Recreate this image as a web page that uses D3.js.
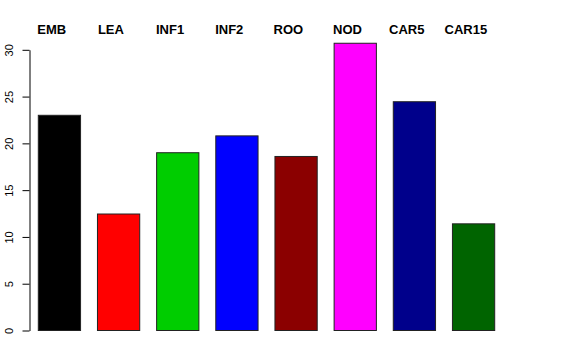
<!DOCTYPE html>
<html>
<head>
<meta charset="utf-8">
<script src="https://cdn.jsdelivr.net/npm/d3@7"></script>
<style>
  body { margin: 0; background: #fff; }
  svg { display: block; font-family: "Liberation Sans", Arial, sans-serif; }
</style>
</head>
<body>
<div id="chart"></div>
<script>
// ── 데이터 ──────────────────────────────────────────────
const categories = ['EMB', 'LEA', 'INF1', 'INF2', 'ROO', 'NOD', 'CAR5', 'CAR15'];
const values     = [23.0, 12.45, 19.0, 20.8, 18.6, 30.7, 24.45, 11.4];
const barColors  = ['#000000', '#FF0000', '#00CD00', '#0000FF', '#8B0000', '#FF00FF', '#00008B', '#006400'];
const yTicks     = [0, 5, 10, 15, 20, 25, 30];

// ── 레이아웃 ───────────────────────────────────────────
const W = 576, H = 360;

const svg = d3.select('#chart')
  .append('svg')
  .attr('width', W)
  .attr('height', H);

const x = d3.scaleBand()
  .domain(categories)
  .range([38.3, 494.7])
  .paddingInner(0.4 / 1.4)
  .paddingOuter(0);

const y = d3.scaleLinear()
  .domain([0, 30])
  .range([330.5, 49.8]);

// 막대
svg.append('g')
  .selectAll('rect')
  .data(categories)
  .join('rect')
  .attr('x', d => x(d))
  .attr('y', (d, i) => y(values[i]))
  .attr('width', x.bandwidth())
  .attr('height', (d, i) => y(0) - y(values[i]))
  .attr('fill', (d, i) => barColors[i])
  .attr('stroke', '#222')
  .attr('stroke-width', 1);

// 상단 라벨
svg.append('g')
  .selectAll('text')
  .data(categories)
  .join('text')
  .attr('x', d => x(d) + x.bandwidth() / 2 - 7.7)
  .attr('y', 34)
  .attr('text-anchor', 'middle')
  .attr('font-weight', 'bold')
  .attr('font-size', 13)
  .attr('fill', '#000')
  .text(d => d);

// y축 (R 스타일, 라벨 회전)
const yAxis = svg.append('g')
  .attr('transform', 'translate(29.5,0)')
  .call(d3.axisLeft(y).tickValues(yTicks).tickSize(7).tickSizeOuter(0).tickPadding(0));

yAxis.select('.domain').attr('stroke', '#000');
yAxis.selectAll('.tick line').attr('stroke', '#000');
yAxis.selectAll('.tick text')
  .attr('font-size', 11)
  .attr('font-family', '"Liberation Sans", Arial, sans-serif')
  .attr('fill', '#000')
  .attr('text-anchor', 'middle')
  .attr('dy', 0)
  .attr('x', 0)
  .attr('transform', 'translate(-16.5,0) rotate(-90)');
</script>
</body>
</html>
